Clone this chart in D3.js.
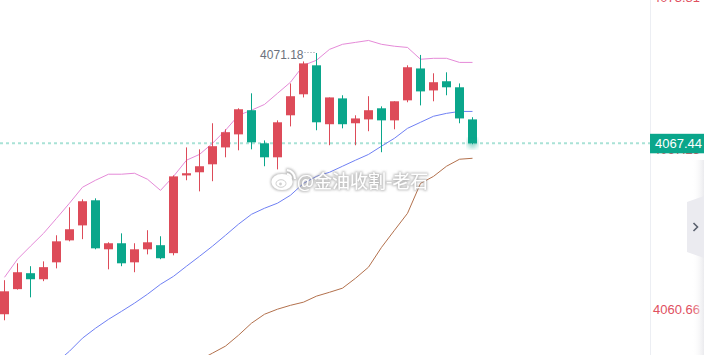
<!DOCTYPE html>
<html>
<head>
<meta charset="utf-8">
<script src="https://cdn.jsdelivr.net/npm/d3@7"></script>
<style>
  html, body { margin: 0; padding: 0; background: #fff; }
  #chart { width: 704px; height: 355px; overflow: hidden; }
</style>
</head>
<body>
<div id="chart"></div>
<script>
// candle data (oldest -> newest)
var opens  = [4060.36, 4061.40, 4062.06, 4061.81, 4062.51, 4063.42, 4064.04, 4065.08, 4063.05, 4063.30,
              4062.51, 4063.05, 4063.22, 4062.89, 4066.11, 4066.24, 4066.57, 4067.27, 4067.81, 4068.81,
              4067.44, 4066.86, 4068.60, 4069.47, 4070.67, 4068.23, 4069.30, 4068.27, 4068.43, 4068.89,
              4068.39, 4069.22, 4070.54, 4069.63, 4070.01, 4069.76, 4068.43];
var highs  = [4061.77, 4062.47, 4062.35, 4062.55, 4063.63, 4064.79, 4065.12, 4065.16, 4063.34, 4063.71,
              4063.30, 4063.84, 4063.59, 4066.11, 4067.27, 4067.19, 4068.27, 4068.02, 4068.89, 4069.51,
              4067.56, 4068.39, 4069.92, 4070.83, 4071.18, 4069.34, 4069.43, 4068.60, 4069.39, 4068.97,
              4069.18, 4070.67, 4071.10, 4070.34, 4070.38, 4069.92, 4068.52];
var lows   = [4060.11, 4061.38, 4061.06, 4061.73, 4062.26, 4063.38, 4063.47, 4063.05, 4062.22, 4062.35,
              4062.10, 4062.84, 4062.64, 4062.80, 4065.91, 4065.45, 4065.87, 4066.86, 4067.15, 4067.19,
              4066.49, 4066.36, 4068.14, 4069.34, 4067.98, 4067.36, 4068.06, 4067.36, 4067.94, 4067.07,
              4068.02, 4069.14, 4069.01, 4069.18, 4069.43, 4068.27, 4067.40];
var closes = [4061.31, 4062.10, 4061.81, 4062.31, 4063.38, 4063.88, 4065.04, 4063.09, 4063.30, 4062.47,
              4063.05, 4063.34, 4062.68, 4066.07, 4066.20, 4066.49, 4067.32, 4067.90, 4068.85, 4067.48,
              4066.86, 4068.31, 4069.39, 4070.75, 4068.31, 4069.34, 4068.23, 4068.47, 4068.81, 4068.39,
              4069.18, 4070.59, 4069.59, 4069.97, 4069.76, 4068.47, 4067.44];

// bollinger bands
var upperBand = [4061.89, 4062.64, 4063.18, 4063.71, 4064.33, 4064.96, 4065.62, 4065.91, 4066.16, 4066.16,
                 4066.20, 4065.95, 4065.49, 4066.07, 4066.74, 4066.98, 4067.44, 4067.98, 4068.60, 4068.81,
                 4069.05, 4069.51, 4069.97, 4070.67, 4070.88, 4071.33, 4071.54, 4071.62, 4071.70, 4071.54,
                 4071.46, 4071.41, 4070.92, 4070.96, 4070.96, 4070.79, 4070.79];
var midBand   = [4056.72, 4057.13, 4057.55, 4057.96, 4058.37, 4058.83, 4059.37, 4059.78, 4060.15, 4060.48,
                 4060.82, 4061.19, 4061.60, 4061.93, 4062.35, 4062.76, 4063.18, 4063.63, 4064.09, 4064.50,
                 4064.75, 4064.96, 4065.29, 4065.78, 4066.07, 4066.24, 4066.49, 4066.74, 4066.98, 4067.32,
                 4067.65, 4068.06, 4068.31, 4068.56, 4068.68, 4068.76, 4068.76];
var lowerBand = [null, null, null, null, null, null, null, null, null, null,
                 null, null, null, null, 4057.96, 4058.46, 4058.75, 4059.04, 4059.49, 4059.99,
                 4060.36, 4060.57, 4060.73, 4060.86, 4061.11, 4061.27, 4061.44, 4061.85, 4062.31, 4063.13,
                 4063.84, 4064.54, 4065.78, 4066.07, 4066.49, 4066.78, 4066.82];

var axisTicks = [4073.81, 4067.25, 4060.66];
var lastPrice = 4067.44;
var highLabel = "4071.18";
var watermark = "@金油收割-老石";

var W = 704, H = 355, plotRight = 650;
var upColor = "#dd4b59", downColor = "#0aa68b";

var svg = d3.select("#chart")
  .append("svg")
    .attr("width", W)
    .attr("height", H)
    .style("font-family", "Arial, 'Liberation Sans', sans-serif");

var defs = svg.append("defs");
var halo = defs.append("filter").attr("id", "halo")
  .attr("x", "-20%").attr("y", "-40%").attr("width", "140%").attr("height", "180%");
halo.append("feMorphology").attr("in", "SourceAlpha").attr("operator", "dilate").attr("radius", 1).attr("result", "d");
halo.append("feGaussianBlur").attr("in", "d").attr("stdDeviation", 1.3).attr("result", "b");
halo.append("feFlood").attr("flood-color", "#8a8a8a").attr("flood-opacity", 0.55);
halo.append("feComposite").attr("in2", "b").attr("operator", "in").attr("result", "s");
var hm = halo.append("feMerge");
hm.append("feMergeNode").attr("in", "s");
hm.append("feMergeNode").attr("in", "SourceGraphic");

defs.append("filter").attr("id", "blur")
  .append("feGaussianBlur").attr("stdDeviation", 2.5);

var edge = defs.append("linearGradient").attr("id", "edge");
edge.append("stop").attr("offset", "0%").attr("stop-color", "#fff").attr("stop-opacity", 0);
edge.append("stop").attr("offset", "100%").attr("stop-color", "#e6e6ea").attr("stop-opacity", 0.8);

// scales
var x = d3.scaleLinear()
  .domain([0, opens.length - 1])
  .range([4.5, 4.5 + 13 * (opens.length - 1)]);
var y = d3.scaleLinear()
  .domain([4060.66, 4071.18])
  .range([307, 53]);

var plot = svg.append("g");
plot.append("clipPath").attr("id", "clip")
  .append("rect").attr("width", plotRight).attr("height", H);
plot.attr("clip-path", "url(#clip)");

// last price dotted line
plot.append("line")
  .attr("x1", 0).attr("x2", plotRight)
  .attr("y1", y(lastPrice)).attr("y2", y(lastPrice))
  .attr("stroke", "#a9e2d6")
  .attr("stroke-width", 2)
  .attr("stroke-dasharray", "3,3");

// bands
function band(vals, color) {
  plot.append("path")
    .datum(vals)
    .attr("fill", "none")
    .attr("stroke", color)
    .attr("stroke-width", 1)
    .attr("d", d3.line()
      .defined(function(d) { return d != null; })
      .x(function(d, i) { return x(i); })
      .y(function(d) { return y(d); }));
}
band(upperBand, "#e58ad8");
band(midBand, "#6f80f4");
band(lowerBand, "#b3714d");

// candles
var idx = d3.range(opens.length);
var candle = plot.selectAll(".candle")
  .data(idx)
  .enter()
  .append("g");

candle.append("line")
  .attr("x1", function(i) { return x(i); })
  .attr("x2", function(i) { return x(i); })
  .attr("y1", function(i) { return y(highs[i]); })
  .attr("y2", function(i) { return y(lows[i]); })
  .attr("stroke", function(i) { return closes[i] >= opens[i] ? upColor : downColor; })
  .attr("stroke-width", 1);

candle.append("rect")
  .attr("x", function(i) { return x(i) - 4.5; })
  .attr("width", 9)
  .attr("y", function(i) { return y(Math.max(opens[i], closes[i])); })
  .attr("height", function(i) { return Math.max(1.5, y(Math.min(opens[i], closes[i])) - y(Math.max(opens[i], closes[i]))); })
  .attr("fill", function(i) { return closes[i] >= opens[i] ? upColor : downColor; });

// glow on the live candle
var last = opens.length - 1;
plot.append("circle")
  .attr("cx", x(last)).attr("cy", y(lastPrice))
  .attr("r", 5)
  .attr("fill", downColor)
  .attr("opacity", 0.45)
  .attr("filter", "url(#blur)");

// highest price marker
var hiIdx = highs.indexOf(d3.max(highs));
plot.append("line")
  .attr("x1", x(hiIdx) - 12).attr("x2", x(hiIdx) - 2)
  .attr("y1", y(highs[hiIdx]) - 0.5).attr("y2", y(highs[hiIdx]) - 0.5)
  .attr("stroke", "#8a8f99")
  .attr("stroke-dasharray", "1,2");
plot.append("text")
  .attr("x", x(hiIdx) - 13)
  .attr("y", y(highs[hiIdx]) + 2)
  .attr("dy", "0.35em")
  .attr("text-anchor", "end")
  .attr("font-size", 12)
  .attr("fill", "#6b717c")
  .text(highLabel);

// watermark
var wm = svg.append("g").attr("filter", "url(#halo)");
var logo = wm.append("g").attr("transform", "translate(282,182)");
logo.append("ellipse").attr("rx", 10.5).attr("ry", 8).attr("fill", "#fff");
logo.append("ellipse").attr("cx", -1).attr("cy", 1.5).attr("rx", 5).attr("ry", 3.8)
  .attr("fill", "none").attr("stroke", "#d0d0d0").attr("stroke-width", 1);
logo.append("circle").attr("cx", -1.5).attr("cy", 2).attr("r", 1.4).attr("fill", "#d0d0d0");
logo.append("path").attr("d", "M5,-12 A9,9 0 0 1 13,-3").attr("fill", "none")
  .attr("stroke", "#fff").attr("stroke-width", 2);
logo.append("path").attr("d", "M5,-8 A5,5 0 0 1 9,-3.5").attr("fill", "none")
  .attr("stroke", "#fff").attr("stroke-width", 2);
wm.append("text")
  .attr("x", 297).attr("y", 182)
  .attr("dy", "0.35em")
  .attr("font-size", 18)
  .attr("font-family", "'Noto Sans CJK SC', sans-serif")
  .attr("fill", "#ffffff")
  .text(watermark);

// right price axis
svg.append("line")
  .attr("x1", plotRight + 0.5).attr("x2", plotRight + 0.5)
  .attr("y1", 0).attr("y2", H)
  .attr("stroke", "#eceef3");

svg.selectAll(".tick-label")
  .data(axisTicks)
  .enter()
  .append("text")
    .attr("x", plotRight + 3)
    // top label is kept half in view like the app does
    .attr("y", function(d) { return Math.max(y(d) + 2, -3); })
    .attr("dy", "0.35em")
    .attr("font-size", 13)
    .attr("fill", "#e0505f")
    .text(function(d) { return d.toFixed(2); });

svg.append("rect")
  .attr("x", plotRight).attr("y", y(lastPrice) - 9.5)
  .attr("width", W - plotRight).attr("height", 19.5)
  .attr("fill", downColor);
svg.append("text")
  .attr("x", plotRight + 5).attr("y", y(lastPrice))
  .attr("dy", "0.35em")
  .attr("font-size", 13)
  .attr("fill", "#fff")
  .text(lastPrice.toFixed(2));

// soft edge + side toggle button
svg.append("rect")
  .attr("x", 692).attr("y", 160).attr("width", 12).attr("height", H - 160)
  .attr("fill", "url(#edge)");
svg.append("path")
  .attr("d", "M687,202 L704,196 L704,258 L687,252 Z")
  .attr("fill", "#ebebf0");
svg.append("path")
  .attr("d", "M693.5,223 L697.5,227 L693.5,231")
  .attr("fill", "none")
  .attr("stroke", "#59606e")
  .attr("stroke-width", 1.6);
</script>
</body>
</html>
